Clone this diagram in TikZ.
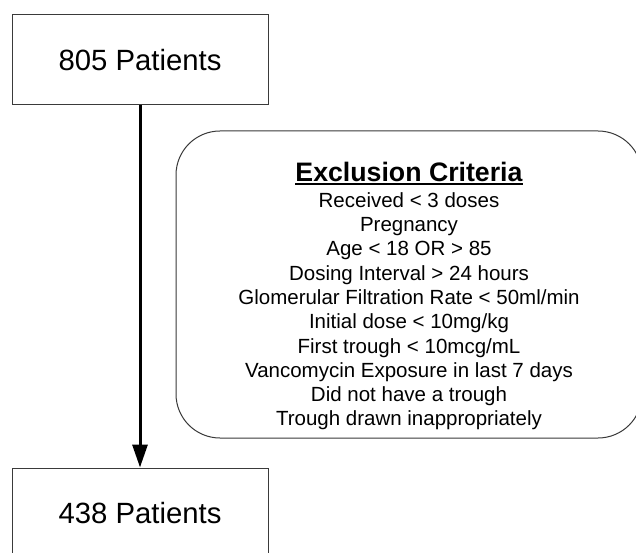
\documentclass[tikz,border=0pt]{standalone}
\usepackage{fontspec}
\setmainfont{Liberation Sans}
\usetikzlibrary{arrows.meta}
\definecolor{edgegray}{HTML}{3A3A3A}
\tikzset{
  patbox/.style={draw=edgegray, line width=1pt, minimum width=256pt, minimum height=90pt, inner sep=0pt, font=\fontsize{29.3}{32}\selectfont},
  exclbox/.style={draw=edgegray, line width=1pt, rounded corners=44pt, minimum width=466pt, minimum height=307pt, inner sep=0pt},
  flow/.style={line width=3pt, -{Triangle[length=23pt,width=15pt]}}
}
\begin{document}
\begin{tikzpicture}[x=1pt,y=-1pt]
\useasboundingbox (0,0) rectangle (636,553);
\fill[white] (0,0) rectangle (636,553);
\clip (0,0) rectangle (636,553);
\node[patbox] (top) at (140,60) {805 Patients};
\node[patbox] (bottom) at (140,513) {438 Patients};
\node[exclbox] (excl) at (409,284.5) {};
\node[anchor=base, inner sep=0pt, font=\fontsize{26.7}{30}\selectfont\bfseries] (title) at (409,181.7) {Exclusion Criteria};
\draw[line width=1.4pt] ([yshift=-2.3pt]title.base west) -- ([yshift=-2.3pt]title.base east);
\node[anchor=north, inner sep=0pt, align=center, font=\fontsize{20.5}{24.3}\selectfont] (list) at (409,192.2) {Received < 3 doses\\Pregnancy\\Age < 18 OR > 85\\Dosing Interval > 24 hours\\Glomerular Filtration Rate < 50ml/min\\Initial dose < 10mg/kg\\First trough < 10mcg/mL\\Vancomycin Exposure in last 7 days\\Did not have a trough\\Trough drawn inappropriately};
\draw[flow] (top) -- (bottom);
\end{tikzpicture}
\end{document}
